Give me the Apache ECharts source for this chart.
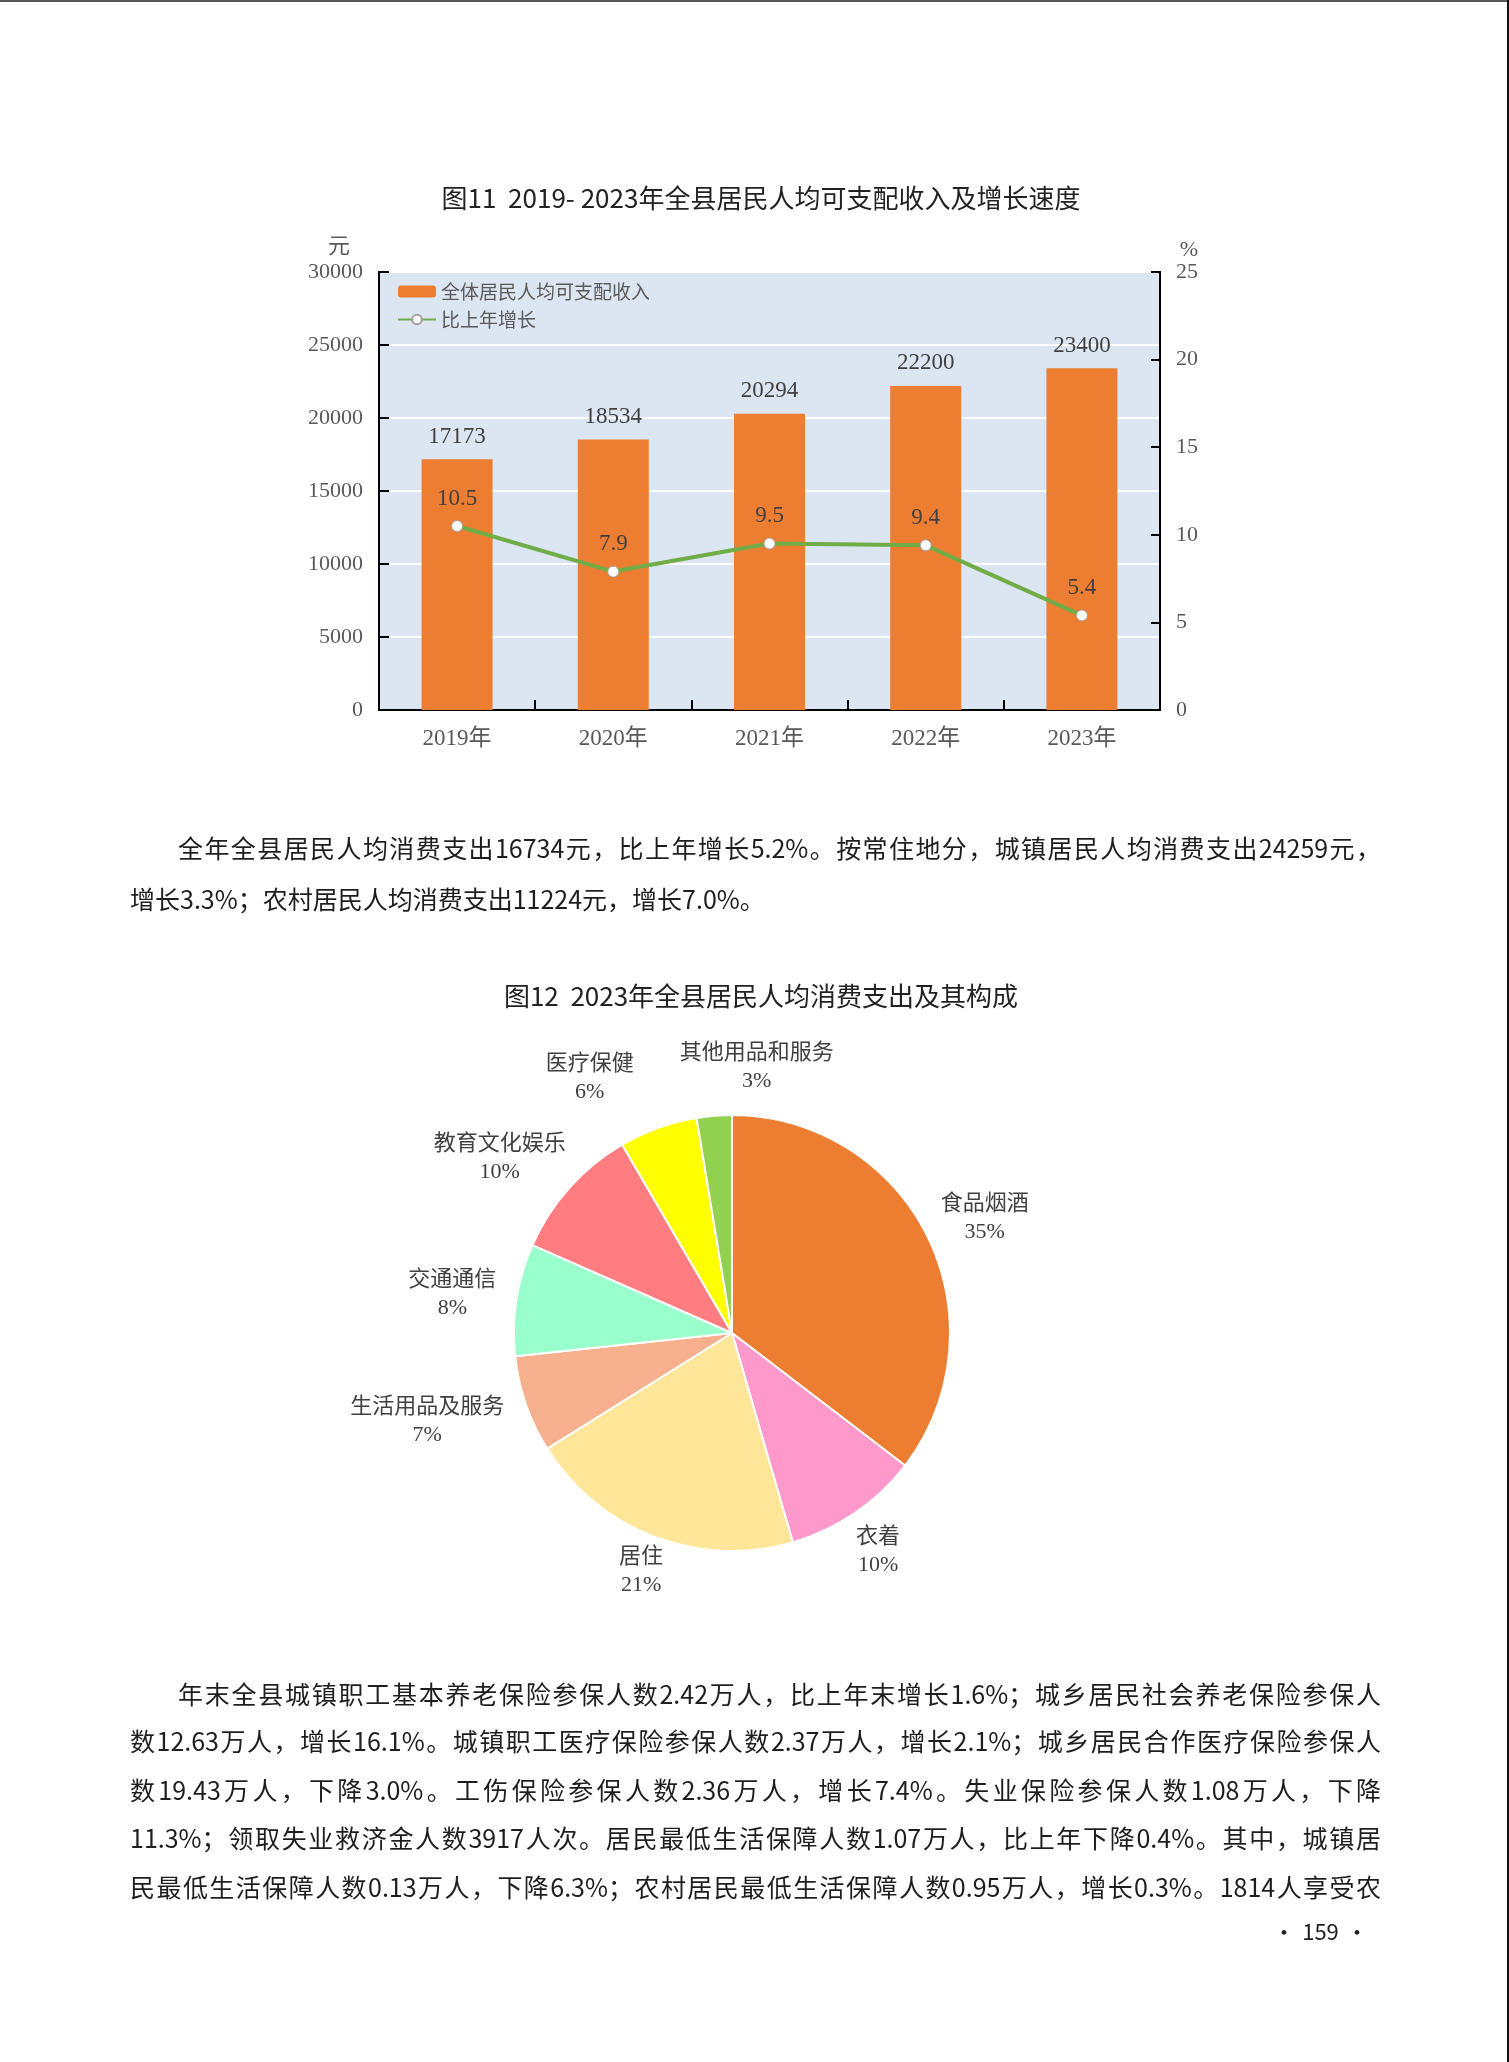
<!DOCTYPE html>
<html><head><meta charset="utf-8">
<script src="https://cdn.jsdelivr.net/npm/echarts/dist/echarts.min.js"></script>
<style>
html,body{margin:0;padding:0;background:#fff;}
body{width:1509px;height:2062px;position:relative;overflow:hidden;}
#chart{position:absolute;left:0;top:0;width:1509px;height:2062px;}
.ln{position:absolute;font-family:"Noto Sans CJK SC",sans-serif;font-size:25px;line-height:40px;height:40px;color:#1e1e1e;white-space:nowrap;}
.j{text-align:justify;text-align-last:justify;}
.bt{position:absolute;left:0;top:0;width:1509px;height:2px;background:#555;}
.br{position:absolute;right:0;top:0;width:2px;height:2062px;background:#111;}
</style></head>
<body>
<div id="chart"></div>
<div class="bt"></div><div class="br"></div>
<div class="ln j" style="left:178px;top:827px;width:1203px;">全年全县居民人均消费支出16734元，比上年增长5.2%。按常住地分，城镇居民人均消费支出24259元，</div>
<div class="ln" style="left:130px;top:878px;">增长3.3%；农村居民人均消费支出11224元，增长7.0%。</div>
<div class="ln j" style="left:178px;top:1673px;width:1203px;">年末全县城镇职工基本养老保险参保人数2.42万人，比上年末增长1.6%；城乡居民社会养老保险参保人</div>
<div class="ln j" style="left:130px;top:1720px;width:1251px;">数12.63万人，增长16.1%。城镇职工医疗保险参保人数2.37万人，增长2.1%；城乡居民合作医疗保险参保人</div>
<div class="ln j" style="left:130px;top:1769px;width:1251px;">数19.43万人，下降3.0%。工伤保险参保人数2.36万人，增长7.4%。失业保险参保人数1.08万人，下降</div>
<div class="ln j" style="left:130px;top:1817px;width:1251px;">11.3%；领取失业救济金人数3917人次。居民最低生活保障人数1.07万人，比上年下降0.4%。其中，城镇居</div>
<div class="ln j" style="left:130px;top:1866px;width:1251px;">民最低生活保障人数0.13万人，下降6.3%；农村居民最低生活保障人数0.95万人，增长0.3%。1814人享受农</div>
<div class="ln j" style="left:1273px;top:1910px;width:95px;font-size:22px;">· 159 ·</div>
<script>
// ---- data ----
const years = ['2019年', '2020年', '2021年', '2022年', '2023年'];
const incomeValues = [17173, 18534, 20294, 22200, 23400];
const growthValues = [10.5, 7.9, 9.5, 9.4, 5.4];
const legendNames = ['全体居民人均可支配收入', '比上年增长'];
const pieNames = ['食品烟酒', '衣着', '居住', '生活用品及服务', '交通通信', '教育文化娱乐', '医疗保健', '其他用品和服务'];
const pieShares = [35.4, 10.1, 20.6, 7.2, 8.3, 10.0, 5.8, 2.6];

// ---- styles ----
const pieColors = ['#ed7d31', '#ff99cc', '#ffe699', '#f6b08e', '#99ffcc', '#ff7c80', '#ffff00', '#92d050'];
const labelNudge = [[0, 10], [0, 5], [0, 0], [-8, -14], [0, 5], [-13, 21], [-12, -8], [4, -12]];

const SERIF = '"Liberation Serif","Noto Sans CJK SC",serif';
const SANS = '"Noto Sans CJK SC",sans-serif';

// pie layout
const PC = [732, 1333], PR = 218, LFS = 22, LLH = 28;
function textW(s) { let w = 0; for (const ch of s) w += /[\u4e00-\u9fff]/.test(ch) ? LFS : LFS * 0.55; return w; }
const total = pieShares.reduce((a, b) => a + b, 0);
const labelPos = [];
(function () {
  let acc = 0;
  pieShares.forEach((v, i) => {
    const a = (acc + v / 2) / total * Math.PI * 2;
    acc += v;
    const w = Math.max(textW(pieNames[i]), textW(Math.round(v / total * 100) + '%'));
    const h = LLH * 2;
    const d = PR + 20 + Math.abs(Math.sin(a)) * w / 2 + Math.abs(Math.cos(a)) * 10;
    labelPos.push({ x: PC[0] + d * Math.sin(a), y: PC[1] - d * Math.cos(a), w: w, h: h });
  });
  for (let i = 0; i < labelPos.length; i++) for (let j = i + 1; j < labelPos.length; j++) {
    const A = labelPos[i], B = labelPos[j];
    const ox = (A.w + B.w) / 2 - Math.abs(A.x - B.x);
    const oy = (A.h + B.h) / 2 - Math.abs(A.y - B.y);
    if (ox > 0 && oy > 0) {
      const s = (ox + 30) / 2, dir = A.x < B.x ? 1 : -1;
      A.x -= dir * s; B.x += dir * s;
    }
  }
  labelPos.forEach((p, i) => { p.x += labelNudge[i][0]; p.y += labelNudge[i][1]; });
})();

const chart = echarts.init(document.getElementById('chart'), null, { renderer: 'canvas' });
chart.setOption({
  animation: false,
  backgroundColor: 'transparent',
  title: [
    { text: '图11  2019- 2023年全县居民人均可支配收入及增长速度', left: 756, top: 180, textAlign: 'center',
      textStyle: { fontFamily: SANS, fontSize: 26, fontWeight: 'normal', color: '#222' } },
    { text: '图12  2023年全县居民人均消费支出及其构成', left: 756, top: 978, textAlign: 'center',
      textStyle: { fontFamily: SANS, fontSize: 26, fontWeight: 'normal', color: '#222' } }
  ],
  legend: {
    data: legendNames, orient: 'vertical', left: 397, top: 282, padding: 0, itemGap: 9,
    itemWidth: 38, itemHeight: 12,
    textStyle: { fontFamily: SANS, fontSize: 19, color: '#595959' }
  },
  grid: { left: 379, top: 272, width: 781, height: 438, show: true, backgroundColor: '#dce6f2', borderColor: '#000', borderWidth: 2 },
  xAxis: {
    type: 'category', data: years,
    axisLine: { show: true, lineStyle: { color: '#000', width: 2 } },
    axisTick: { show: true, inside: true, length: 10, lineStyle: { color: '#000', width: 2 } },
    axisLabel: { fontFamily: SERIF, fontSize: 23, color: '#595959', margin: 17 },
    splitLine: { show: false }
  },
  yAxis: [
    { type: 'value', min: 0, max: 30000, interval: 5000, position: 'left',
      name: '元', nameLocation: 'end', nameGap: 14,
      nameTextStyle: { fontFamily: SERIF, fontSize: 22, color: '#595959', padding: [0, 80, 0, 0] },
      axisLine: { show: true, lineStyle: { color: '#000', width: 2 } },
      axisTick: { show: true, inside: true, length: 10, lineStyle: { color: '#000', width: 2 } },
      axisLabel: { fontFamily: SERIF, fontSize: 22, color: '#595959', margin: 16, formatter: v => String(v) },
      splitLine: { show: true, lineStyle: { color: '#ffffff', width: 2 } } },
    { type: 'value', min: 0, max: 25, interval: 5, position: 'right',
      name: '%', nameLocation: 'end', nameGap: 10,
      nameTextStyle: { fontFamily: SERIF, fontSize: 22, color: '#595959', padding: [0, 0, 0, 58] },
      axisLine: { show: true, lineStyle: { color: '#000', width: 2 } },
      axisTick: { show: true, inside: true, length: 9, lineStyle: { color: '#000', width: 2 } },
      axisLabel: { fontFamily: SERIF, fontSize: 22, color: '#595959', margin: 16, formatter: v => String(v) },
      splitLine: { show: false } }
  ],
  series: [
    { name: legendNames[0], type: 'bar', data: incomeValues, barWidth: 71,
      itemStyle: { color: '#ed7d31' },
      label: { show: true, position: 'top', distance: 11, fontFamily: SERIF, fontSize: 23, color: '#404040' } },
    { name: legendNames[1], type: 'line', yAxisIndex: 1, data: growthValues, z: 5,
      symbol: 'circle', symbolSize: 11,
      lineStyle: { color: '#70ad47', width: 4 },
      itemStyle: { color: '#ffffff', borderColor: '#a0a0a0', borderWidth: 1 },
      label: { show: true, position: 'top', distance: 10, fontFamily: SERIF, fontSize: 23, color: '#404040' } },
    { type: 'pie', center: PC, radius: PR, startAngle: 90, clockwise: true,
      avoidLabelOverlap: false,
      data: pieNames.map((n, i) => ({ name: n, value: pieShares[i], itemStyle: { color: pieColors[i] } })),
      itemStyle: { borderColor: '#ffffff', borderWidth: 2 },
      label: { show: true, position: 'outside', fontFamily: SERIF, fontSize: LFS, lineHeight: LLH, color: '#404040', align: 'center',
        formatter: p => p.name + '\n' + Math.round(p.percent) + '%' },
      labelLine: { show: false },
      labelLayout: p => ({ x: labelPos[p.dataIndex].x, y: labelPos[p.dataIndex].y, align: 'center', verticalAlign: 'middle' })
    }
  ]
});
</script>
</body></html>
